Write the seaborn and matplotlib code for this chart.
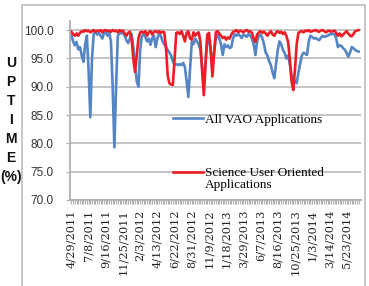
import numpy as np
import pandas as pd
import matplotlib
matplotlib.use("Agg")
import matplotlib.pyplot as plt
from matplotlib.lines import Line2D
from matplotlib.patches import Rectangle
import seaborn as sns
import datetime as dt

# ---------------- data ----------------
start_date = dt.date(2011, 4, 29)
n_weeks = 168

all_vao = [
    99.1, 98.0, 97.3, 97.9, 96.6, 97.0, 95.5, 94.4, 97.5, 99.0,
    93.0, 84.6, 95.0, 99.4, 99.6, 99.2, 99.5, 99.0, 98.5, 99.5,
    99.6, 99.0, 99.5, 98.0, 90.0, 79.3, 90.0, 99.0, 99.5, 99.4,
    99.6, 99.0, 98.2, 97.7, 98.5, 99.3, 97.0, 94.0, 91.0, 90.0,
    96.5, 99.0, 99.2, 98.8, 98.0, 98.5, 97.4, 98.6, 99.0, 97.0,
    98.5, 99.4, 99.0, 98.0, 97.5, 97.0, 96.5, 96.0, 95.5, 94.5,
    93.8, 94.0, 93.8, 94.0, 93.8, 94.2, 93.5, 91.0, 88.2, 93.0,
    97.9, 97.5, 98.5, 98.0, 97.5, 96.5, 93.5, 90.0, 94.5, 98.0,
    98.5, 96.5, 93.0, 96.0, 98.5, 99.2, 98.5, 97.5, 95.6, 97.5,
    97.0, 97.3, 96.8, 97.0, 98.5, 99.3, 99.0, 99.3, 99.0, 98.6,
    99.2, 99.0, 98.8, 99.3, 99.0, 98.5, 97.5, 95.6, 98.0, 99.0,
    99.2, 98.6, 97.5, 96.0, 95.5, 94.5, 93.8, 92.5, 91.5, 94.0,
    96.5, 98.0, 97.5, 96.5, 96.0, 95.0, 95.5, 94.0, 92.0, 91.5,
    91.0, 90.6, 92.5, 94.0, 95.5, 96.0, 95.8, 95.6, 98.0, 99.0,
    98.8, 98.5, 98.6, 98.4, 98.2, 98.6, 99.0, 98.8, 98.9, 99.0,
    99.2, 99.3, 99.3, 99.3, 98.5, 97.0, 97.3, 97.2, 96.8, 96.5,
    96.0, 95.3, 96.0, 97.0, 96.8, 96.5, 96.3, 96.2,
]

science_user = [
    99.7, 99.3, 99.0, 99.4, 99.0, 99.5, 99.8, 99.7, 100.0, 99.8,
    99.9, 99.6, 99.8, 100.0, 99.7, 99.9, 99.8, 100.0, 99.6, 99.9,
    100.0, 99.8, 99.9, 99.7, 100.0, 99.8, 99.9, 99.6, 100.0, 99.8,
    99.9, 99.4, 99.0, 99.5, 99.7, 98.5, 95.0, 92.6, 95.5, 98.5,
    99.6, 99.7, 99.5, 99.8, 99.0, 99.6, 99.8, 99.2, 99.7, 99.8,
    99.6, 99.8, 99.5, 99.7, 99.6, 97.0, 92.0, 90.6, 90.4, 90.3,
    95.0, 99.5, 99.6, 99.3, 99.8, 99.0, 98.0, 99.5, 99.8, 98.5,
    98.3, 99.6, 99.0, 99.4, 99.6, 98.0, 93.0, 88.5, 94.0, 99.2,
    99.5, 96.5, 91.8, 96.0, 99.6, 99.8, 99.4, 99.0, 98.6, 98.8,
    98.3, 98.7, 98.5, 99.2, 99.7, 99.8, 100.0, 99.6, 99.9, 99.8,
    99.6, 99.9, 100.0, 99.7, 99.8, 99.5, 98.5, 97.9, 99.2, 99.6,
    99.8, 99.5, 99.7, 99.4, 99.0, 99.5, 99.8, 99.2, 99.0, 99.6,
    99.8, 99.5, 99.7, 99.3, 99.6, 99.0, 97.9, 95.0, 91.0, 89.4,
    93.0, 97.5, 99.5, 99.7, 99.8, 99.6, 99.9, 99.8, 100.0, 99.7,
    99.8, 99.9, 100.0, 99.8, 99.7, 99.9, 100.0, 99.8, 99.6, 99.8,
    99.9, 99.7, 99.8, 99.9, 99.5, 99.0, 99.4, 98.9, 99.2, 99.5,
    99.8, 99.4, 99.0, 98.9, 99.3, 99.8, 99.9, 100.0,
]

series_names = ["All VAO Applications", "Science User Oriented Applications"]
series_colors = ["#5585C5", "#EE1C24"]
y_ticks = [70, 75, 80, 85, 90, 95, 100]
tick_every = 10

weeks = list(range(n_weeks))
dates = [start_date + dt.timedelta(weeks=w) for w in weeks]
tick_weeks = weeks[::tick_every]
tick_labels = [f"{dates[w].month}/{dates[w].day}/{dates[w].year}" for w in tick_weeks]

df = pd.DataFrame({
    "week": weeks * 2,
    "uptime": all_vao + science_user,
    "series": [series_names[0]] * n_weeks + [series_names[1]] * n_weeks,
})

# ---------------- figure ----------------
W, H = 369, 286
fig = plt.figure(figsize=(W / 100, H / 100), dpi=100)
fig.patch.set_facecolor("white")

def fx(px):
    return px / W

def fy(py):
    return 1 - py / H

ax_left, ax_right, ax_top, ax_bottom = 70, 361, 21, 200
ax = fig.add_axes([fx(ax_left), fy(ax_bottom), fx(ax_right - ax_left), (ax_bottom - ax_top) / H])
ax.set_facecolor("white")

sns.lineplot(data=df, x="week", y="uptime", hue="series", hue_order=series_names,
             palette=series_colors, linewidth=1.9, ax=ax, legend=False,
             estimator=None, sort=False)

ax.set_xlim(-0.8, 168.4)
ax.set_ylim(70, 101.6)
ax.set_yticks(y_ticks)
ax.set_yticklabels([f"{v:.1f}" for v in y_ticks], fontfamily="Liberation Sans",
                   fontsize=8.5, color="#333333")
ax.set_xticks(tick_weeks)
ax.set_xticklabels(tick_labels, rotation=90, fontfamily="DejaVu Serif",
                   fontsize=8.2, color="#222222")
ax.set_xticks(weeks, minor=True)
ax.set_xlabel("")
ax.set_ylabel("")

ax.grid(axis="y", color="#BFBFBF", linewidth=1.3)
ax.grid(axis="x", visible=False)
ax.set_axisbelow(True)
for s in ["top", "right"]:
    ax.spines[s].set_visible(False)
ax.spines["left"].set_color("#B0B0B0")
ax.spines["left"].set_linewidth(1.3)
ax.spines["bottom"].set_color("#B0B0B0")
ax.spines["bottom"].set_linewidth(1.3)
ax.tick_params(axis="y", length=3, color="#B0B0B0", pad=9)
ax.tick_params(axis="x", which="major", length=3, color="#B0B0B0", pad=4)
ax.tick_params(axis="x", which="minor", length=3, color="#B0B0B0", width=0.8)

blue_h = Line2D([], [], color=series_colors[0], linewidth=1.9)
red_h = Line2D([], [], color=series_colors[1], linewidth=1.9)
blank_h = Line2D([], [], linestyle="none")

leg_font = {"family": "Liberation Serif", "size": 9.5}
leg1 = fig.legend([blue_h], [series_names[0]], loc="center left",
                  bbox_to_anchor=(fx(173), fy(120)), frameon=False, prop=leg_font,
                  handlelength=2.3, handletextpad=0.1, borderpad=0, borderaxespad=0)
leg2 = fig.legend([red_h, blank_h], ["Science User Oriented", "Applications"],
                  loc="upper left", bbox_to_anchor=(fx(173), fy(167)), frameon=False,
                  prop=leg_font, handlelength=2.3, handletextpad=0.1, borderpad=0,
                  borderaxespad=0, labelspacing=0.0)

fig.text(fx(11), fy(120), "U\nP\nT\nI\nM\nE\n(%)", ha="center", va="center",
         multialignment="center", fontsize=10, fontweight="bold",
         fontfamily="Liberation Sans", linespacing=1.45, color="#111111")

border = Rectangle((fx(22), -0.1), fx(365 - 22), fy(5) + 0.1,
                   transform=fig.transFigure, fill=False,
                   edgecolor="#BDBDBD", linewidth=1.2, zorder=10)
fig.add_artist(border)

fig.savefig("out.png", dpi=100)
